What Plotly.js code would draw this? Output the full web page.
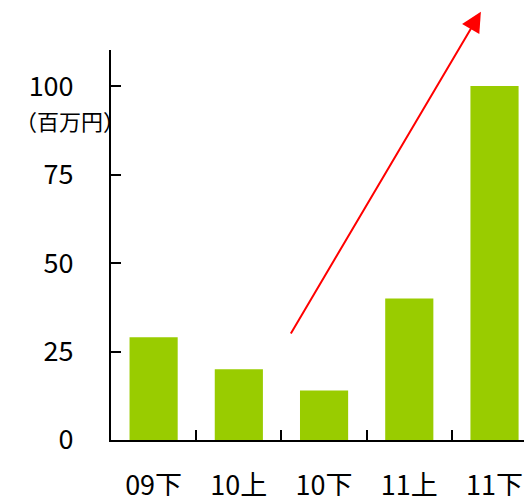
<!DOCTYPE html>
<html>
<head>
<meta charset="utf-8">
<script src="https://cdn.plot.ly/plotly-3.0.1.min.js"></script>
<style>
  html, body { margin: 0; padding: 0; background: #fff; }
  #chart { width: 524px; height: 496px; }
</style>
</head>
<body>
<div id="chart"></div>
<script>
// Half-year periods and sales (millions of yen)
const periods = ['09下', '10上', '10下', '11上', '11下'];
const sales = [29, 20, 14, 40, 100];
const yTicks = [0, 25, 50, 75, 100];
const unitLabel = '（百万円）';

const font = '"Noto Sans CJK JP", "Noto Sans", sans-serif';

const trace = {
  type: 'bar',
  x: periods.map((_, i) => i),
  y: sales,
  width: 0.565,
  marker: { color: '#99cc00', line: { width: 0 } },
  hoverinfo: 'skip'
};

const layout = {
  width: 524,
  height: 496,
  margin: { l: 111, r: 0, t: 50, b: 56, pad: 0 },
  paper_bgcolor: '#ffffff',
  plot_bgcolor: '#ffffff',
  showlegend: false,
  font: { family: font, color: '#000000' },
  xaxis: {
    range: [-0.5, 4.346],
    tickmode: 'array',
    tickvals: periods.map((_, i) => i),
    ticktext: periods,
    ticks: '',
    showgrid: false,
    zeroline: false,
    showline: true,
    linecolor: '#000000',
    linewidth: 2,
    ticklabelstandoff: 21,
    tickfont: { size: 27, family: font, color: '#000000' },
    fixedrange: true
  },
  xaxis2: {
    overlaying: 'x',
    matches: 'x',
    anchor: 'y',
    range: [-0.5, 4.346],
    tickmode: 'array',
    tickvals: [0.5, 1.5, 2.5, 3.5],
    ticks: 'inside',
    ticklen: 10,
    tickwidth: 2,
    tickcolor: '#000000',
    showticklabels: false,
    showgrid: false,
    zeroline: false,
    showline: false,
    side: 'bottom'
  },
  yaxis: {
    range: [0, 110.2],
    tickmode: 'array',
    tickvals: yTicks,
    ticks: 'inside',
    ticklen: 10,
    tickwidth: 2,
    tickcolor: '#000000',
    showgrid: false,
    zeroline: false,
    showline: true,
    linecolor: '#000000',
    linewidth: 2,
    ticklabelstandoff: 30,
    tickfont: { size: 27, family: font, color: '#000000' },
    fixedrange: true
  },
  annotations: [
    {
      xref: 'paper', yref: 'y',
      x: 0, y: 100,
      xanchor: 'right', yanchor: 'top',
      xshift: 16, yshift: -16,
      text: unitLabel,
      showarrow: false,
      font: { size: 22, family: font, color: '#000000' }
    },
    {
      xref: 'x', yref: 'y', axref: 'x', ayref: 'y',
      x: 3.84, y: 121,
      ax: 1.6, ay: 29.7,
      text: '',
      showarrow: true,
      arrowhead: 2,
      arrowsize: 2,
      arrowwidth: 2,
      arrowcolor: '#ff0000'
    }
  ]
};

// invisible trace that activates the axis carrying the between-category tick marks
const tickTrace = { type: 'scatter', x: [0], y: [0], xaxis: 'x2', yaxis: 'y', mode: 'none', hoverinfo: 'skip' };

Plotly.newPlot('chart', [trace, tickTrace], layout, { staticPlot: true, displayModeBar: false });
</script>
</body>
</html>
